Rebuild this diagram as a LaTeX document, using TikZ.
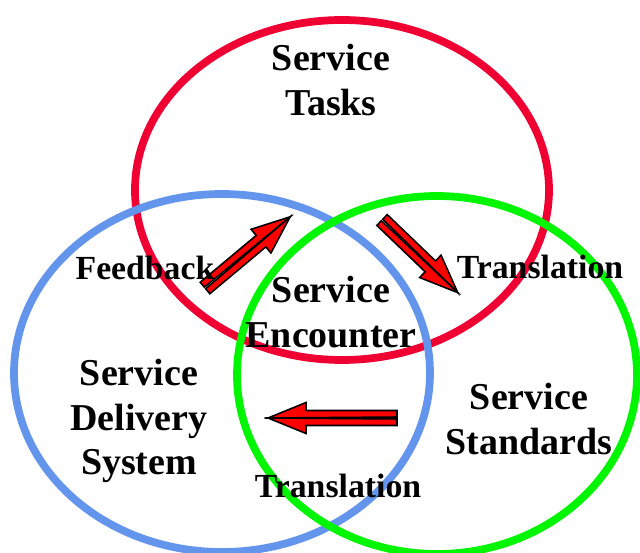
\documentclass[tikz,border=0pt]{standalone}
\usepackage{fontspec}
\setmainfont{Liberation Serif}
\usepackage{tikz}
\definecolor{taskred}{RGB}{240,0,50}
\definecolor{deliveryblue}{RGB}{100,149,237}
\definecolor{standardgreen}{RGB}{0,245,0}

% two-stripe block arrow: #1 tail, #2 angle, #3 length
\newcommand{\twinarrow}[3]{%
  \begin{scope}[shift={#1}, rotate=#2]
    \filldraw[arrowpart] (0,1) -- (0,7.5) -- (#3-38,7.5) -- (#3-38,15.5) -- (#3,0) -- cycle;
    \filldraw[arrowpart] (0,-1) -- (0,-7.5) -- (#3-38,-7.5) -- (#3-38,-15.5) -- (#3,0) -- cycle;
  \end{scope}}

\begin{document}
\begin{tikzpicture}[
  x=0.025cm, y=0.025cm,
  ring/.style={line width=5.5, draw},
  title/.style={font=\fontsize{27}{31.5}\selectfont\bfseries, align=center},
  flow/.style={font=\fontsize{24}{28}\selectfont\bfseries},
  arrowpart/.style={fill=red, draw=black, line width=1.1pt, line join=miter}
]
\useasboundingbox (0,0) rectangle (640,553);

% the three rings
\draw[ring, taskred] (342,363) ellipse (207 and 170);
\draw[ring, deliveryblue] (222,180) ellipse (208 and 179);
\draw[ring, standardgreen] (437,178) ellipse (200 and 179);

% arrows between the areas
\twinarrow{(205,265)}{39.9}{111}
\twinarrow{(382,333)}{-43.8}{105}
\twinarrow{(397,135)}{180}{129}

% labels
\node[title] (tasks) at (331,473) {Service\\Tasks};
\node[title] (encounter) at (331,241) {Service\\Encounter};
\node[title] (delivery) at (139,132) {Service\\Delivery\\System};
\node[title] (standards) at (529,134) {Service\\Standards};
\node[flow] (feedback) at (145,285) {Feedback};
\node[flow] (transright) at (540,286) {Translation};
\node[flow] (transbottom) at (338,67) {Translation};
\end{tikzpicture}
\end{document}
